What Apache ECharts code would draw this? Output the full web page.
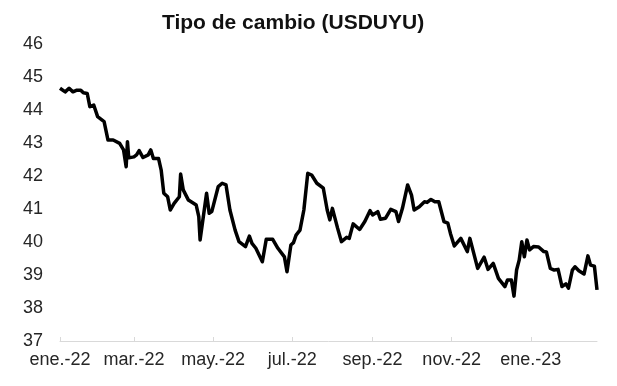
<!DOCTYPE html>
<html>
<head>
<meta charset="utf-8">
<script src="https://cdn.jsdelivr.net/npm/echarts@6/dist/echarts.min.js"></script>
<style>
html,body{margin:0;padding:0;background:#fff;}
#chart{width:617px;height:386px;}
</style>
</head>
<body>
<div id="chart"></div>
<script>
var titleText = 'Tipo de cambio (USDUYU)';

var dates = [
'2022-01-03','2022-01-04','2022-01-07','2022-01-10','2022-01-13','2022-01-16','2022-01-19','2022-01-21','2022-01-24','2022-01-26',
'2022-01-29','2022-02-01','2022-02-06','2022-02-09','2022-02-13','2022-02-18','2022-02-21','2022-02-23','2022-02-24','2022-02-25',
'2022-03-01','2022-03-03','2022-03-05','2022-03-08','2022-03-12','2022-03-14','2022-03-16','2022-03-20','2022-03-22','2022-03-24',
'2022-03-27','2022-03-29','2022-04-01','2022-04-05','2022-04-06','2022-04-08','2022-04-12','2022-04-18','2022-04-20','2022-04-21',
'2022-04-22','2022-04-26','2022-04-28','2022-04-30','2022-05-05','2022-05-08','2022-05-11','2022-05-14','2022-05-18','2022-05-21',
'2022-05-26','2022-05-29','2022-05-31','2022-06-03','2022-06-08','2022-06-11','2022-06-16','2022-06-20','2022-06-25','2022-06-27',
'2022-06-30','2022-07-02','2022-07-04','2022-07-07','2022-07-10','2022-07-13','2022-07-16','2022-07-20','2022-07-25','2022-07-28',
'2022-07-30','2022-08-01','2022-08-05','2022-08-08','2022-08-12','2022-08-14','2022-08-17','2022-08-22','2022-08-26','2022-08-30',
'2022-09-01','2022-09-05','2022-09-07','2022-09-11','2022-09-15','2022-09-19','2022-09-21','2022-09-24','2022-09-28','2022-10-01',
'2022-10-03','2022-10-07','2022-10-11','2022-10-13','2022-10-16','2022-10-19','2022-10-22','2022-10-26','2022-10-29','2022-10-31',
'2022-11-03','2022-11-08','2022-11-13','2022-11-15','2022-11-21','2022-11-26','2022-11-29','2022-12-03','2022-12-07','2022-12-12',
'2022-12-14','2022-12-17','2022-12-19','2022-12-21','2022-12-23','2022-12-25','2022-12-27','2022-12-29','2022-12-31','2023-01-03',
'2023-01-07','2023-01-11','2023-01-13','2023-01-16','2023-01-19','2023-01-22','2023-01-25','2023-01-28','2023-01-30','2023-02-02',
'2023-02-04','2023-02-07','2023-02-11','2023-02-14','2023-02-16','2023-02-19','2023-02-21'
];

var values = [
44.66,44.72,44.55,44.66,44.55,44.60,44.60,44.52,44.50,44.10,
44.15,43.80,43.65,43.09,43.09,42.99,42.79,42.28,43.04,42.55,
42.58,42.64,42.77,42.56,42.64,42.79,42.53,42.53,42.18,41.48,
41.37,40.97,41.17,41.37,42.06,41.58,41.27,41.12,40.77,40.06,
40.12,41.48,40.87,40.92,41.68,41.78,41.73,40.97,40.36,40.01,
39.86,40.18,39.96,39.81,39.40,40.08,40.08,39.81,39.55,39.10,
39.91,39.98,40.21,40.36,40.97,42.08,42.03,41.78,41.63,40.97,
40.67,41.02,40.42,40.01,40.14,40.11,40.55,40.38,40.62,40.95,
40.82,40.92,40.69,40.72,40.99,40.92,40.62,41.02,41.73,41.42,
40.97,41.07,41.22,41.20,41.29,41.22,41.22,40.62,40.57,40.26,
39.88,40.11,39.71,40.11,39.20,39.54,39.17,39.35,38.90,38.65,
38.85,38.85,38.36,39.15,39.45,40.01,39.55,40.06,39.76,39.86,
39.85,39.71,39.70,39.20,39.15,39.17,38.65,38.73,38.60,39.15,
39.25,39.13,39.03,39.58,39.30,39.27,38.55
];

var tickDates = ['2022-01-03','2022-03-01','2022-05-01','2022-07-01','2022-09-01','2022-11-01','2023-01-01'];
var tickLabels = ['ene.-22','mar.-22','may.-22','jul.-22','sep.-22','nov.-22','ene.-23'];

var yMin = 37, yMax = 46, yStep = 1;

function toTime(s) {
  var p = s.split('-');
  return new Date(+p[0], +p[1] - 1, +p[2]).getTime();
}

var tickTimes = tickDates.map(toTime);
var seriesData = dates.map(function (d, i) { return [toTime(d), values[i]]; });

var chart = echarts.init(document.getElementById('chart'), null, {renderer: 'canvas'});
chart.setOption({
  animation: false,
  backgroundColor: '#ffffff',
  title: {
    text: titleText,
    left: 157,
    top: 8,
    textStyle: {fontFamily: 'Liberation Sans, Arial, sans-serif', fontSize: 21, fontWeight: 'bold', color: '#111'}
  },
  grid: {left: 60, right: 20, top: 44, bottom: 45, containLabel: false},
  xAxis: {
    type: 'value',
    min: toTime(dates[0]),
    max: toTime(dates[dates.length - 1]),
    axisLine: {show: true, lineStyle: {color: '#d9d9d9', width: 1}},
    axisTick: {show: true, customValues: tickTimes, length: 4, inside: true, lineStyle: {color: '#d9d9d9'}},
    axisLabel: {
      customValues: tickTimes,
      margin: 10,
      fontFamily: 'Liberation Sans, Arial, sans-serif',
      fontSize: 18,
      color: '#262626',
      showMinLabel: true,
      showMaxLabel: true,
      formatter: function (v) {
        var best = -1, bd = Infinity;
        for (var k = 0; k < tickTimes.length; k++) {
          var d = Math.abs(tickTimes[k] - v);
          if (d < bd) { bd = d; best = k; }
        }
        return (best >= 0 && bd < 86400000) ? tickLabels[best] : '';
      }
    },
    splitLine: {show: false}
  },
  yAxis: {
    type: 'value',
    min: yMin,
    max: yMax,
    interval: yStep,
    axisLine: {show: false},
    axisTick: {show: false},
    splitLine: {show: false},
    axisLabel: {
      margin: 17,
      fontFamily: 'Liberation Sans, Arial, sans-serif',
      fontSize: 18,
      color: '#262626'
    }
  },
  series: [{
    type: 'line',
    data: seriesData,
    showSymbol: false,
    symbol: 'none',
    smooth: false,
    lineStyle: {color: '#000', width: 3.5, join: 'round'}
  }]
});
</script>
</body>
</html>
